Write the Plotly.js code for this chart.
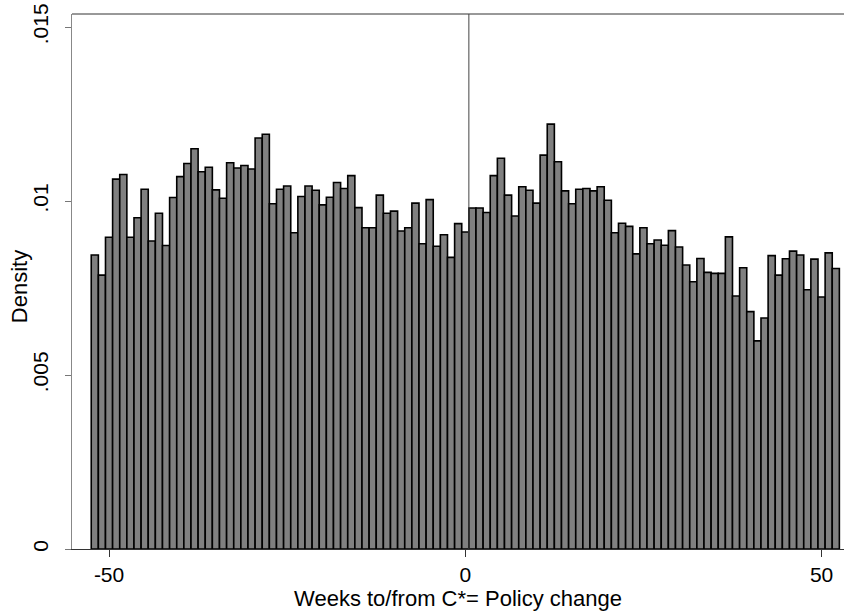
<!DOCTYPE html>
<html>
<head>
<meta charset="utf-8">
<script src="https://cdn.plot.ly/plotly-3.0.1.min.js"></script>
<style>
  html, body { margin: 0; padding: 0; background: #fff; }
  #chart { width: 844px; height: 614px; }
</style>
</head>
<body>
<div id="chart"></div>
<script>
// Weekly bins relative to the policy change (week 0)
const weeks = [];
for (let w = -52; w <= 52; w++) weeks.push(w);

// Density of observations per week
const density = [
  0.00845, 0.00787, 0.00896, 0.01063, 0.01076, 0.00896, 0.00952, 0.01034, 0.00885, 0.00965,
  0.00872, 0.01010, 0.01070, 0.01108, 0.01150, 0.01084, 0.01097, 0.01032, 0.01008, 0.01110,
  0.01095, 0.01102, 0.01092, 0.01181, 0.01192, 0.00992, 0.01034, 0.01043, 0.00909, 0.01013,
  0.01043, 0.01031, 0.00989, 0.01011, 0.01053, 0.01036, 0.01073, 0.00981, 0.00923, 0.00923,
  0.01017, 0.00965, 0.00971, 0.00914, 0.00923, 0.00994, 0.00877, 0.01004, 0.00870, 0.00903,
  0.00838, 0.00935, 0.00911,
  0.00980, 0.00980, 0.00967, 0.01073, 0.01123, 0.01017, 0.00957, 0.01041, 0.01031, 0.00994,
  0.01132, 0.01221, 0.01113, 0.01029, 0.00992, 0.01034, 0.01036, 0.01029, 0.01041, 0.01002,
  0.00909, 0.00936, 0.00927, 0.00848, 0.00923, 0.00877, 0.00888, 0.00873, 0.00915, 0.00868,
  0.00816, 0.00768, 0.00835, 0.00795, 0.00792, 0.00792, 0.00897, 0.00727, 0.00808, 0.00682,
  0.00598, 0.00664, 0.00843, 0.00787, 0.00834, 0.00856, 0.00845, 0.00745, 0.00833, 0.00724,
  0.00851, 0.00806
];

// Axis ticks
const xTickVals = [-50, 0, 50];
const xTickText = ['-50', '0', '50'];
const yTickVals = [0, 0.005, 0.01, 0.015];
const yTickText = ['0', '.005', '.01', '.015'];

// Reference line marking the policy change
const policyLineX = 0.5;

const FONT = 'Liberation Sans, Arial, Helvetica, sans-serif';

const trace = {
  type: 'bar',
  x: weeks,
  y: density,
  width: 1,
  marker: { color: '#808080', line: { color: '#000000', width: 1.6 } },
  hoverinfo: 'x+y'
};

const layout = {
  width: 844,
  height: 614,
  margin: { l: 72, r: 0, t: 14, b: 65 },
  paper_bgcolor: '#ffffff',
  plot_bgcolor: '#ffffff',
  showlegend: false,
  bargap: 0,
  font: { family: FONT, color: '#000', size: 21 },
  xaxis: {
    range: [-55.2, 53.15],
    tickvals: xTickVals,
    ticktext: xTickText,
    ticks: 'outside',
    ticklen: 7,
    tickcolor: '#333',
    tickfont: { family: FONT, size: 21 },
    showline: true,
    linecolor: '#333',
    linewidth: 1,
    showgrid: false,
    zeroline: false,
    title: { text: 'Weeks to/from C*= Policy change', font: { family: FONT, size: 22 }, standoff: 2 }
  },
  yaxis: {
    range: [0, 0.015374],
    tickvals: yTickVals,
    ticktext: yTickText,
    tickangle: -90,
    ticks: 'outside',
    ticklen: 6,
    tickcolor: '#777',
    tickfont: { family: FONT, size: 21 },
    ticklabelstandoff: 9,
    showline: true,
    linecolor: '#888',
    linewidth: 1,
    showgrid: false,
    zeroline: false
  },
  // y-axis title, placed just left of the rotated tick labels
  annotations: [
    { text: 'Density', xref: 'paper', yref: 'paper', x: -0.067, y: 0.49,
      xanchor: 'center', yanchor: 'middle', textangle: -90, showarrow: false,
      font: { family: FONT, size: 22, color: '#000' } }
  ],
  shapes: [
    { type: 'line', xref: 'paper', yref: 'paper', x0: 0, x1: 1, y0: 1, y1: 1,
      line: { color: '#333', width: 1 } },
    { type: 'line', xref: 'x', yref: 'paper', x0: policyLineX, x1: policyLineX, y0: 0, y1: 1,
      line: { color: '#444', width: 1 }, layer: 'above' }
  ]
};

Plotly.newPlot('chart', [trace], layout, { displayModeBar: false, staticPlot: true });
</script>
</body>
</html>
